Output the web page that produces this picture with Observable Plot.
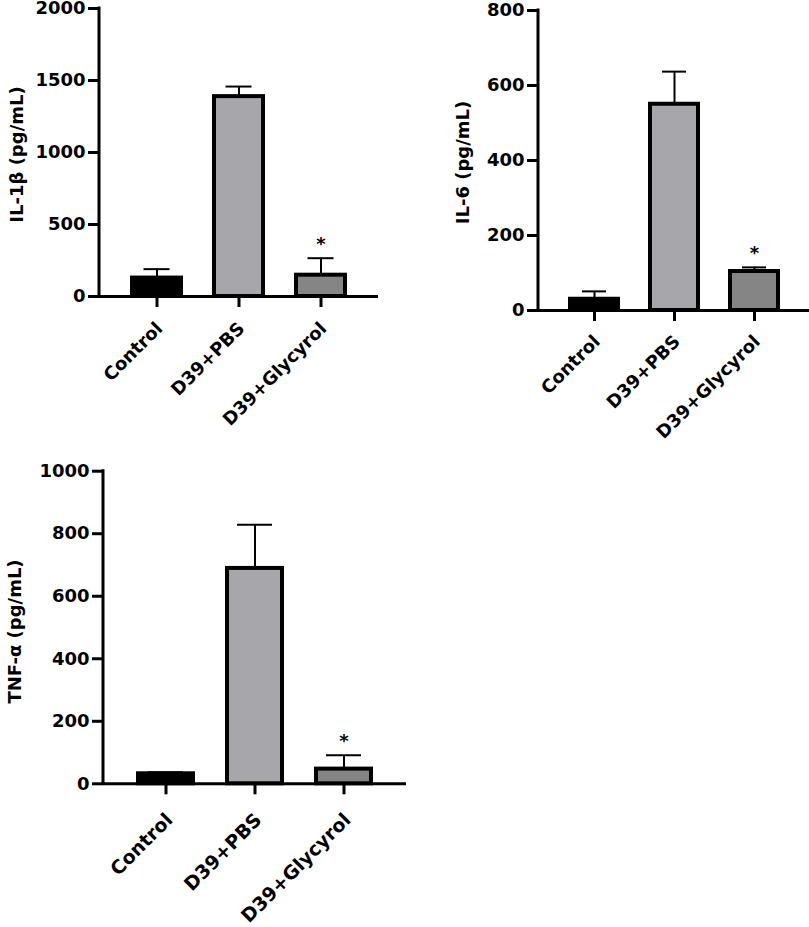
<!DOCTYPE html>
<html><head><meta charset="utf-8">
<script src="https://cdn.jsdelivr.net/npm/d3@7"></script>
<script src="https://cdn.jsdelivr.net/npm/@observablehq/plot@0.6"></script>
<style>
body{margin:0;background:#fff;}
#wrap{position:relative;width:809px;height:927px;overflow:hidden;background:#fff;}
.panel{position:absolute;}
</style></head><body><div id="wrap"></div>
<script>
const categories = ["Control", "D39+PBS", "D39+Glycyrol"];
const fills = ["#000000", "#a6a6ab", "#858585"];
const significance = ["", "", "*"];

const il1bMean = [128, 1388, 148];
const il1bErr = [62, 70, 118];
const il1bTicks = [0, 500, 1000, 1500, 2000];

const il6Mean = [30, 550, 104];
const il6Err = [21, 87, 11];
const il6Ticks = [0, 200, 400, 600, 800];

const tnfMean = [32, 689, 47];
const tnfErr = [5, 140, 44];
const tnfTicks = [0, 200, 400, 600, 800, 1000];

const FONT = "'DejaVu Sans', 'Liberation Sans', Arial, sans-serif";

function panel(cfg) {
  const data = categories.map((c, i) => ({
    cat: c, mean: cfg.means[i], err: cfg.errs[i],
    top: cfg.means[i] + cfg.errs[i], fill: fills[i], sig: significance[i]
  }));
  const yMax = cfg.ticks[cfg.ticks.length - 1];
  const chart = Plot.plot({
    width: cfg.width, height: cfg.height,
    marginLeft: cfg.mL, marginRight: cfg.mR, marginTop: cfg.mT, marginBottom: cfg.mB,
    style: {fontFamily: FONT, color: "#000", background: "transparent", overflow: "visible"},
    x: {domain: categories, paddingInner: cfg.pi, paddingOuter: cfg.po, label: null},
    y: {domain: [0, yMax], label: null},
    color: {type: "identity"},
    marks: [
      Plot.barY(data, {x: "cat", y: "mean", fill: d => d.fill, stroke: "#000", strokeWidth: 4}),
      Plot.ruleX(data, {x: "cat", y1: "mean", y2: "top", stroke: "#000", strokeWidth: 2}),
      Plot.tickY(data, {x: "cat", y: "top", stroke: "#000", strokeWidth: 2, insetLeft: cfg.capInset, insetRight: cfg.capInset}),
      Plot.ruleY([0], {stroke: "#000", strokeWidth: 3}),
      Plot.axisY(cfg.ticks, {tickSize: 11, strokeWidth: 3, tickPadding: 3, fontSize: 18, fontWeight: "bold", tickFormat: d => String(d), label: null}),
      Plot.axisX({tickSize: 11, strokeWidth: 3, tickFormat: () => "", label: null}),
      Plot.axisX({tickSize: 0, tickPadding: cfg.xPad, tickRotate: -45, dx: cfg.xDx, fontSize: cfg.xFont, fontWeight: "bold", label: null}),
      Plot.text(data, {x: "cat", y: "top", text: "sig", dy: -8, lineAnchor: "bottom", fontSize: 18, fontWeight: "bold"}),
      Plot.text([cfg.label], {frameAnchor: "left", textAnchor: "middle", lineAnchor: "middle", text: d => d, rotate: -90, dx: cfg.labelX - cfg.mL, dy: cfg.labelDy || 0, fontSize: 18, fontWeight: "bold"})
    ]
  });
  // vertical axis line
  const y = chart.scale("y");
  d3.select(chart).append("line")
    .attr("x1", cfg.mL).attr("x2", cfg.mL)
    .attr("y1", y.apply(yMax) - 1.5).attr("y2", y.apply(0) + 1.5)
    .attr("stroke", "#000").attr("stroke-width", 3);
  const div = document.createElement("div");
  div.className = "panel";
  div.style.left = cfg.left + "px";
  div.style.top = cfg.top + "px";
  div.appendChild(chart);
  document.getElementById("wrap").appendChild(div);
}

panel({means: il1bMean, errs: il1bErr, ticks: il1bTicks, label: "IL-1β (pg/mL)",
  left: 0, top: 0, width: 390, height: 450, mL: 99, mR: 12, mT: 8, mB: 154,
  pi: 0.398, po: 0.385, capInset: 11.5, labelX: 17, labelDy: 2,
  xPad: 29, xDx: 2.5, xFont: 18});

panel({means: il6Mean, errs: il6Err, ticks: il6Ticks, label: "IL-6 (pg/mL)",
  left: 440, top: 0, width: 369, height: 460, mL: 98, mR: 0, mT: 10, mB: 150,
  pi: 0.406, po: 0.38, capInset: 12, labelX: 23, labelDy: 2,
  xPad: 28, xDx: 2.5, xFont: 18});

panel({means: tnfMean, errs: tnfErr, ticks: tnfTicks, label: "TNF-α (pg/mL)",
  left: 0, top: 460, width: 420, height: 467, mL: 103, mR: 14, mT: 10.7, mB: 143.7,
  pi: 0.387, po: 0.379, capInset: 10, labelX: 15, labelDy: 4,
  xPad: 33, xDx: 3.5, xFont: 19});
</script>
</body></html>
